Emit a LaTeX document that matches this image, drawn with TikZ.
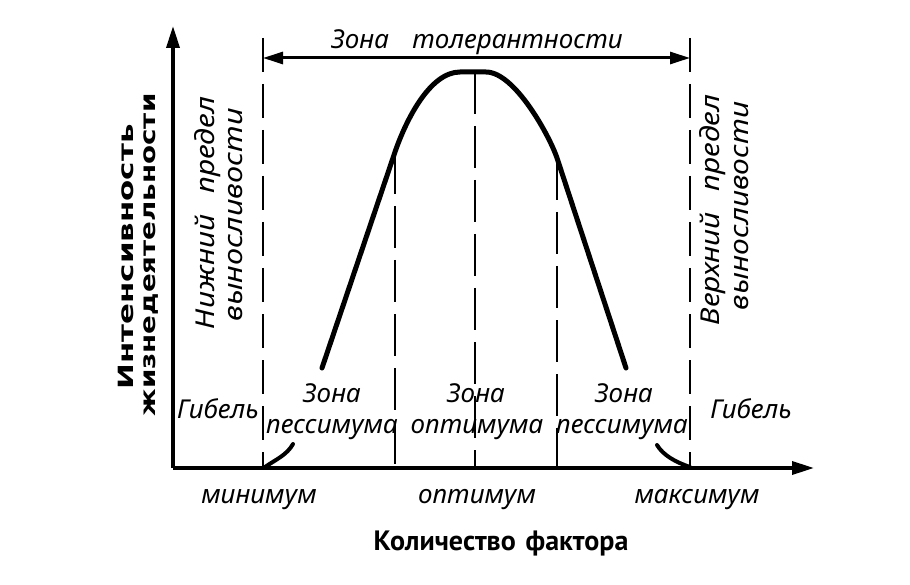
\documentclass[tikz,border=0pt]{standalone}
\usepackage{fontspec}
\setmainfont{PT Sans}
\newfontfamily\labfont{Noto Sans}
\newfontfamily\widebold{DejaVu Sans}
\usetikzlibrary{arrows.meta}
\begin{document}
\begin{tikzpicture}[x=1pt,y=-1pt,
  lbl/.style={font=\fontsize{26}{28}\selectfont\labfont\itshape, inner sep=0pt, anchor=base},
  ttl/.style={font=\fontsize{26}{28}\selectfont\labfont\itshape, inner sep=0pt, anchor=base},
  ylbl/.style={font=\fontsize{21}{23}\selectfont\widebold\bfseries, inner sep=0pt, anchor=base, rotate=90},
  xlbl/.style={font=\fontsize{28}{30}\selectfont\bfseries, inner sep=0pt, anchor=base},
  axisline/.style={line width=3.5pt, -{Triangle[length=22pt,width=13pt]}},
  tolarrow/.style={line width=3pt, {Triangle[length=20pt,width=12pt]}-{Triangle[length=20pt,width=12pt]}},
  bound/.style={line width=2.5pt, dash pattern=on 34pt off 12pt},
  innerline/.style={line width=2pt, dash pattern=on 42pt off 12pt},
  curveline/.style={line width=5pt, line cap=round, line join=round},
  tailline/.style={line width=4pt, line cap=round},
]
\useasboundingbox (0,0) rectangle (910,585);
\fill[white] (0,0) rectangle (910,585);

% key coordinates
\coordinate (O) at (173,468);
\coordinate (Ytop) at (173,26);
\coordinate (Xend) at (814,468);
\coordinate (Ltop) at (263,38);
\coordinate (Lbot) at (263,468);
\coordinate (Rtop) at (690,38);
\coordinate (Rbot) at (690,468);
\coordinate (TolL) at (263,58);
\coordinate (TolR) at (690,58);
\coordinate (A) at (322,368);
\coordinate (B) at (395,152);
\coordinate (Ctl) at (460,72);
\coordinate (Ctr) at (486,72);
\coordinate (D) at (557,158);
\coordinate (E) at (626,368);
\coordinate (Bbot) at (395,468);
\coordinate (Ctop) at (475,72);
\coordinate (Cbot) at (475,468);
\coordinate (Dbot) at (557,468);
\coordinate (LtA) at (265,467);
\coordinate (LtB) at (293,444);
\coordinate (RtA) at (657,445);
\coordinate (RtB) at (690,467);

% boundary lines
\draw[bound] (Ltop) -- (Lbot);
\draw[bound] (Rtop) -- (Rbot);
% inner lines
\draw[innerline] (B) -- (Bbot);
\draw[innerline] (Ctop) -- (Cbot);
\draw[innerline] (D) -- (Dbot);

% axes
\draw[axisline] (O) -- (Ytop);
\draw[axisline] (O) -- (Xend);

% tolerance arrow
\draw[tolarrow] (TolL) -- (TolR);

% curve
\draw[curveline] (A) -- (B) .. controls (406,120) and (430,72) .. (Ctl) -- (Ctr)
  .. controls (515,72) and (550,137) .. (D) -- (E);
\draw[tailline] (LtA) .. controls (275,460) and (287,455) .. (LtB);
\draw[tailline] (RtA) .. controls (663,455) and (675,462) .. (RtB);

% labels
\node[ttl] (tol) at (477,49) {Зона\hspace{0.9em}толерантности};
\node[lbl] (gibL) at (218,418) {Гибель};
\node[lbl] (gibR) at (751,418) {Гибель};
\node[lbl] (z1a) at (332,402) {Зона};
\node[lbl] (z1b) at (332,433) {пессимума};
\node[lbl] (z2a) at (476,402) {Зона};
\node[lbl] (z2b) at (477,433) {оптимума};
\node[lbl] (z3a) at (624,402) {Зона};
\node[lbl] (z3b) at (622,433) {пессимума};
\node[lbl] (min) at (259,503) {минимум};
\node[lbl] (opt) at (477,503) {оптимум};
\node[lbl] (max) at (697,503) {максимум};
\node[xlbl] (xl) at (501,550) {Количество\hspace{0.35em}фактора};

\node[lbl, rotate=90] (nz1) at (214,213) {\scalebox{1.15}[1]{Нижний\hspace{0.7em}предел}};
\node[lbl, rotate=90] (nz2) at (242,215) {\scalebox{1.18}[1]{выносливости}};
\node[lbl, rotate=90] (vr1) at (719,210) {\scalebox{1.15}[1]{Верхний\hspace{0.7em}предел}};
\node[lbl, rotate=90] (vr2) at (748,206) {\scalebox{1.15}[1]{выносливости}};

\node[ylbl] (yl1) at (133,257) {\scalebox{1.47}[1]{Интенсивность}};
\node[ylbl] (yl2) at (155,255) {\scalebox{1.32}[1]{жизнедеятельности}};
\end{tikzpicture}
\end{document}
